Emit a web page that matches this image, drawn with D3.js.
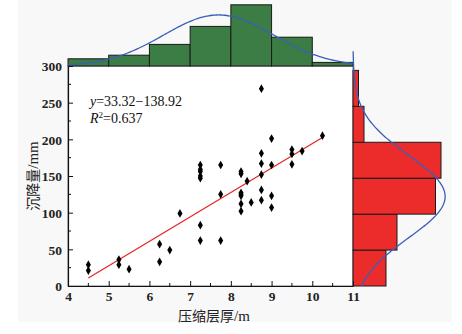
<!DOCTYPE html>
<html><head><meta charset="utf-8">
<script src="https://cdn.jsdelivr.net/npm/d3@7/dist/d3.min.js"></script>
<style>body{margin:0;background:#fff}svg{display:block}</style>
</head><body>
<svg id="c" width="462" height="334"></svg>
<script>
// ---- data ----
const thickness = [4.5,4.5,5.25,5.25,5.5,6.25,6.25,6.5,6.75,7.25,7.25,7.25,7.25,7.25,7.25,7.25,
  7.75,7.75,7.75,8.25,8.25,8.25,8.25,8.25,8.25,8.25,8.4,8.5,8.75,8.75,8.75,8.75,8.75,8.75,
  9.0,9.0,9.0,9.0,9.5,9.5,9.5,9.75,10.25];
const settlement = [29,21,36,29,23,57,33,49,99,165,159,156,150,147,83,62,
  165,125,62,156,153,127,125,123,112,102,143,114,269,181,167,152,131,117,
  201,165,123,107,186,180,166,184,205];
const xTicks = [4,5,6,7,8,9,10,11];
const yTicks = [0,50,100,150,200,250,300];
const xBinEdges = [4,5,6,7,8,9,10,11];
const xBinCounts = [2,3,6,11,17,8,1];
const yBinEdges = [0,49,98,147,196,245,294];
const yBinCounts = [6,8,15,16,2,1];
const sampleSize = 48;
const xNormalMean = 7.7, xNormalSd = 1.35;
const yNormalMean = 122, yNormalSd = 56;
const fitSlope = 33.32, fitIntercept = -138.92;
const fitRange = [4.5, 10.25];
const xTitle = "压缩层厚", yTitle = "沉降量";

// ---- drawing ----
const svg = d3.select("#c");
const L = 68, R = 353, T = 66, B = 286;
const x = d3.scaleLinear().domain([4, 11]).range([L, R]);
const y = d3.scaleLinear().domain([0, 300]).range([B, T]);
const hTop = d3.scaleLinear().domain([0, 17]).range([T, T - 61.2]);
const wRight = d3.scaleLinear().domain([0, 16]).range([R, R + 88]);
const serif = "'Liberation Serif','Times New Roman',serif";
const cjk = "'Noto Sans CJK SC','Noto Sans CJK JP',sans-serif";

svg.append("rect").attr("x", 18).attr("y", 0).attr("width", 434).attr("height", 322).attr("fill", "#f8f8f8");
svg.append("rect").attr("x", L).attr("y", T).attr("width", R - L).attr("height", B - T)
  .attr("fill", "#fff").attr("stroke", "#555").attr("stroke-width", 0.8);

// top histogram
const topBins = xBinCounts.map((c, i) => ({x0: xBinEdges[i], x1: xBinEdges[i + 1], c}));
svg.append("g").selectAll("rect").data(topBins).join("rect")
  .attr("x", d => x(d.x0)).attr("width", d => x(d.x1) - x(d.x0))
  .attr("y", d => hTop(d.c)).attr("height", d => T - hTop(d.c))
  .attr("fill", "#3b7d45").attr("stroke", "#1a1a1a").attr("stroke-width", 1);

// right histogram
const rBins = yBinCounts.map((c, i) => ({y0: yBinEdges[i], y1: yBinEdges[i + 1], c}));
svg.append("g").selectAll("rect").data(rBins).join("rect")
  .attr("x", R).attr("width", d => wRight(d.c) - R)
  .attr("y", d => y(d.y1)).attr("height", d => y(d.y0) - y(d.y1))
  .attr("fill", "#ec2b2b").attr("stroke", "#1a1a1a").attr("stroke-width", 1);

// normal curves
const pdf = (v, m, s) => Math.exp(-0.5 * ((v - m) / s) ** 2) / (s * Math.sqrt(2 * Math.PI));
const xbw = xBinEdges[1] - xBinEdges[0], ybw = yBinEdges[1] - yBinEdges[0];
const topCurve = d3.range(4, 11.001, 0.05).map(v => [x(v), hTop(sampleSize * xbw * pdf(v, xNormalMean, xNormalSd))]);
svg.append("path").attr("d", d3.line().curve(d3.curveBasis)(topCurve))
  .attr("fill", "none").attr("stroke", "#3a5fb8").attr("stroke-width", 1.3);
const rCurve = d3.range(0, 320.01, 2).map(v => [wRight(sampleSize * ybw * pdf(v, yNormalMean, yNormalSd)), y(v)]);
svg.append("path").attr("d", d3.line().curve(d3.curveBasis)(rCurve))
  .attr("fill", "none").attr("stroke", "#3a5fb8").attr("stroke-width", 1.3);

// axes
const xAxis = d3.axisBottom(x).tickValues(xTicks).tickSizeInner(-5).tickSizeOuter(0).tickPadding(5).tickFormat(d3.format("d"));
const yAxis = d3.axisLeft(y).tickValues(yTicks).tickSizeInner(-5).tickSizeOuter(0).tickPadding(6).tickFormat(d3.format("d"));
const gx = svg.append("g").attr("transform", `translate(0,${B})`).call(xAxis);
const gy = svg.append("g").attr("transform", `translate(${L},0)`).call(yAxis);
[gx, gy].forEach(g => {
  g.select(".domain").attr("stroke", "#111").attr("stroke-width", 1.2);
  g.selectAll(".tick line").attr("stroke", "#111").attr("stroke-width", 1);
  g.selectAll(".tick text").attr("font-family", serif).attr("font-size", 13.5).attr("font-weight", "bold").attr("fill", "#222");
});
gy.selectAll(".tick text").attr("dy", "0.35em");
// minor ticks
const xMinor = d3.range(4.5, 11, 1);
svg.append("g").selectAll("line").data(xMinor).join("line")
  .attr("x1", d => x(d)).attr("x2", d => x(d)).attr("y1", B).attr("y2", B - 3).attr("stroke", "#111");
const yMinor = d3.range(25, 300, 50);
svg.append("g").selectAll("line").data(yMinor).join("line")
  .attr("x1", L).attr("x2", L + 3).attr("y1", d => y(d)).attr("y2", d => y(d)).attr("stroke", "#111");

// regression line
svg.append("line")
  .attr("x1", x(fitRange[0])).attr("y1", y(fitSlope * fitRange[0] + fitIntercept))
  .attr("x2", x(fitRange[1])).attr("y2", y(fitSlope * fitRange[1] + fitIntercept))
  .attr("stroke", "#e8231f").attr("stroke-width", 1.2);

// points (diamonds)
const diamond = d3.symbol().type(d3.symbolDiamond).size(22);
svg.append("g").selectAll("path").data(thickness.map((t, i) => [t, settlement[i]])).join("path")
  .attr("d", diamond).attr("transform", d => `translate(${x(d[0])},${y(d[1])})`).attr("fill", "#000");

// equation
const eq = svg.append("text").attr("x", 90).attr("y", 106).attr("font-family", serif).attr("font-size", 14).attr("fill", "#111");
eq.append("tspan").attr("font-style", "italic").text("y");
eq.append("tspan").text("=33.32−138.92");
const r2 = svg.append("text").attr("x", 90).attr("y", 123).attr("font-family", serif).attr("font-size", 14).attr("fill", "#111");
r2.append("tspan").attr("font-style", "italic").text("R");
r2.append("tspan").attr("font-size", 9).attr("dy", -5).text("2");
r2.append("tspan").attr("dy", 5).text("=0.637");

// axis titles
const xt = svg.append("text").attr("x", 214).attr("y", 321).attr("text-anchor", "middle").attr("fill", "#222");
xt.append("tspan").attr("font-family", cjk).attr("font-size", 14).text(xTitle);
xt.append("tspan").attr("font-family", serif).attr("font-size", 15).text("/m");
const yt = svg.append("text").attr("transform", "translate(38,176) rotate(-90)").attr("text-anchor", "middle").attr("fill", "#222");
yt.append("tspan").attr("font-family", cjk).attr("font-size", 14).text(yTitle);
yt.append("tspan").attr("font-family", serif).attr("font-size", 15).text("/mm");
</script>
</body></html>
